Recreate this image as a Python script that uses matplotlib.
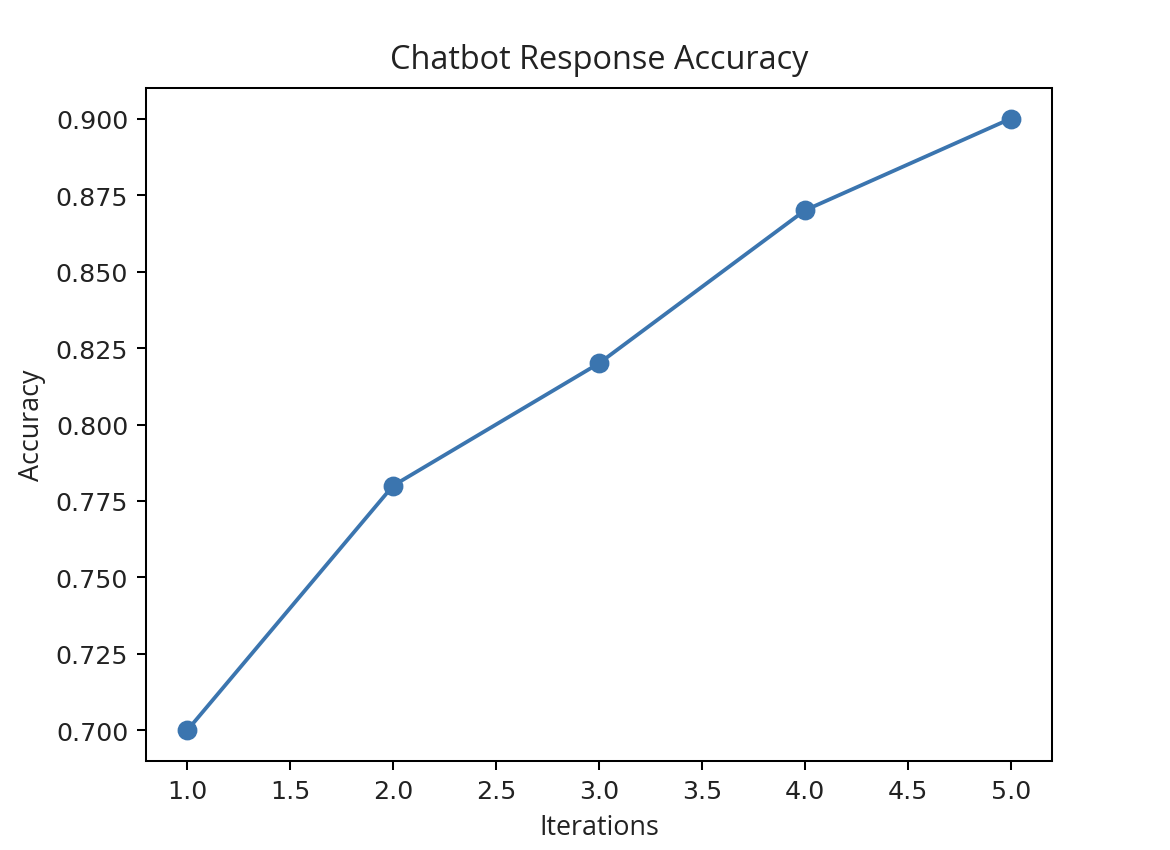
import matplotlib
matplotlib.use("Agg")
import matplotlib.pyplot as plt

iterations = [1, 2, 3, 4, 5]
accuracy = [0.70, 0.78, 0.82, 0.87, 0.90]

W, H, DPI = 1170, 851, 183
fig = plt.figure(figsize=(W / DPI, H / DPI), dpi=DPI)
ax = fig.add_axes([146 / W, 1 - 762 / H, (1052 - 146) / W, (762 - 89) / H])

ax.plot(iterations, accuracy, marker="o", markersize=6.8, color="#3b75af")

ax.set_title("Chatbot Response Accuracy", family="Open Sans", fontsize=12.8, pad=8,
             color="#222222")
ax.set_xlabel("Iterations", family="Open Sans", fontsize=10.6, color="#222222")
ax.set_ylabel("Accuracy", family="Open Sans", fontsize=10.6, color="#222222")
ax.tick_params(labelcolor="#222222")

fig.savefig("out.png", dpi=DPI)
